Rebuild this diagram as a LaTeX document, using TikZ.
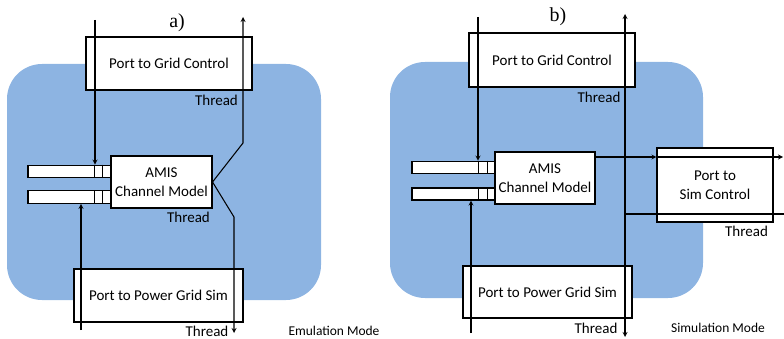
\documentclass[tikz,border=0pt]{standalone}
\usepackage{fontspec}
\setmainfont{Carlito}
\newfontfamily\capfont{Liberation Serif}
\usepackage{tikz}
\usetikzlibrary{arrows,positioning,calc}
\definecolor{panelblue}{RGB}{141,180,226}

\begin{document}
\begin{tikzpicture}[x=0.03cm,y=-0.03cm,port/.style={draw,fill=white,line width=0.9pt,inner sep=0pt,align=center,font=\fontsize{12.8}{16}\selectfont},bar/.style={draw,fill=white,line width=0.9pt,inner sep=0pt,minimum width=2.49cm,minimum height=0.38cm},thr/.style={inner sep=0pt,font=\fontsize{12.8}{15}\selectfont},mode/.style={inner sep=0pt,font=\fontsize{11.5}{14}\selectfont},panelcap/.style={inner sep=0pt,font=\capfont\fontsize{17}{20}\selectfont},arr/.style={->,>=stealth,line width=0.9pt},ln/.style={line width=0.9pt}]
\useasboundingbox (0,0) rectangle (784,339);
% a) emulation mode
\fill[panelblue,rounded corners=1.05cm](7,64) rectangle (321,300);
\node[port,minimum width=4.98cm,minimum height=1.59cm](gcA) at (169,63.5){Port to Grid Control};
\node[port,minimum width=3.03cm,minimum height=1.56cm](amisA) at (161.5,182){AMIS\\Channel Model};
\node[port,minimum width=5.07cm,minimum height=1.59cm](pgA) at (158.5,295.5){Port to Power Grid Sim};
\node[bar](inA) at (69.5,171.5){}; \node[bar](inB) at (69.5,197){};
\node[thr](gcAthr) at (216.5,100){Thread}; \node[thr](amisAthr) at (188.5,217){Thread}; \node[thr](pgAthr) at (207,331){Thread};
\node[panelcap](capA) at (177,23){a)};
\node[mode](modeA) at (334,331){Emulation Mode};
\coordinate (gcAin) at (95,20); \coordinate (pgAin) at (81,330);
\coordinate (upA) at (243,143); \coordinate (upAend) at (243,17);
\coordinate (dnA) at (234,217); \coordinate (dnAend) at (234,333);
\foreach \b in {inA,inB} \foreach \dx in {17,9} \draw[ln] ($(\b.north east)+(-\dx,0)$)--($(\b.south east)+(-\dx,0)$);
\draw[arr](gcAin)--(gcAin |- inA.north); \draw[arr](pgAin)--(pgAin |- inB.south);
\draw[arr](amisA.east)--(upA)--(upAend); \draw[arr](amisA.east)--(dnA)--(dnAend);
% b) simulation mode
\fill[panelblue,rounded corners=1.05cm](390,62) rectangle (703,298);
\node[port,minimum width=4.98cm,minimum height=1.62cm](gcB) at (552,60){Port to Grid Control};
\node[port,minimum width=3.0cm,minimum height=1.56cm](amisB) at (545,178){AMIS\\Channel Model};
\node[port,minimum width=5.07cm,minimum height=1.56cm](pgB) at (547.5,292){Port to Power Grid Sim};
\node[port,minimum width=3.48cm,minimum height=2.22cm](simB) at (715,185){Port to\\Sim Control};
\node[bar](inC) at (453.5,167.5){}; \node[bar,minimum height=0.36cm](inD) at (453.5,194){};
\node[thr](gcBthr) at (599,97){Thread}; \node[thr](simBthr) at (746.5,231){Thread}; \node[thr](pgBthr) at (596,328){Thread};
\node[panelcap](capB) at (558,17){b)};
\node[mode](modeB) at (718,328){Simulation Mode};
\coordinate (gcBin) at (478,17); \coordinate (pgBin) at (471,333);
\coordinate (busTop) at (625,14); \coordinate (busBot) at (625,337);
\coordinate (simout) at (595,157); \coordinate (simoutend) at (783,157); \coordinate (simret) at (784,214);
\foreach \b in {inC,inD} \foreach \dx in {17,8.5} \draw[ln] ($(\b.north east)+(-\dx,0)$)--($(\b.south east)+(-\dx,0)$);
\draw[arr](gcBin)--(gcBin |- inC.north); \draw[arr](pgBin)--(pgBin |- inD.south);
\draw[<->,>=stealth,line width=0.9pt](busTop)--(busBot);
\draw[arr](simout)--(simout -| simB.west); \draw[arr](simout -| simB.west)--(simoutend);
\draw[ln](busTop |- simret)--(simret);
\end{tikzpicture}
\end{document}
